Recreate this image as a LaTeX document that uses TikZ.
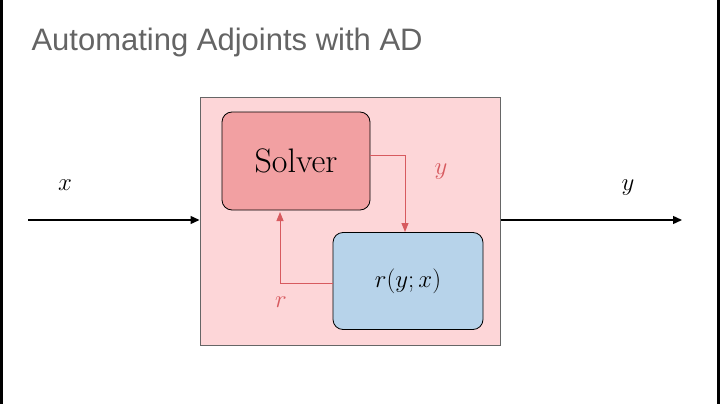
\documentclass[tikz,border=0pt]{standalone}
\usepackage{fontspec}
\setsansfont{Liberation Sans}
\usetikzlibrary{arrows.meta}
\definecolor{pinkbg}{RGB}{253,214,216}
\definecolor{solv}{RGB}{242,160,162}
\definecolor{rbox}{RGB}{183,211,234}
\definecolor{redar}{RGB}{215,90,95}
\definecolor{titleg}{RGB}{100,100,100}
\tikzset{
 inner/.style={draw=black,line width=0.8pt,rounded corners=10pt,inner sep=0pt},
 blk/.style={-{Triangle[length=9pt,width=8pt]},line width=1.4pt},
 red/.style={-{Triangle[length=9pt,width=7pt]},draw=redar,line width=1pt},
 lbl/.style={font=\fontsize{34}{34}\selectfont}
}
\begin{document}
\begin{tikzpicture}[x=1pt,y=-1pt]
\useasboundingbox (0,0) rectangle (720,404);
\fill[white] (0,0) rectangle (720,404);
\fill[black] (0,0) rectangle (3,404);
\fill[black] (717,0) rectangle (720,404);
\node[anchor=west,text=titleg,font=\sffamily\fontsize{31}{31}\selectfont] (title) at (28,42) {Automating Adjoints with AD};
\node[draw=gray!80!black,fill=pinkbg,line width=1pt,minimum width=300pt,minimum height=248pt,inner sep=0pt] (big) at (350,221) {};
\node[inner,fill=solv,minimum width=148pt,minimum height=98pt,lbl] (solver) at (296,161) {Solver};
\node[inner,fill=rbox,minimum width=150pt,minimum height=97pt,lbl] (res) at (408,281) {$r(y;x)$};
\coordinate (xin) at (28,220);
\coordinate (yout) at (682,220);
\draw[blk] (xin) -- (big.west |- xin);
\draw[blk] (big.east |- yout) -- (yout);
\node[lbl] (xl) at (65,185) {$x$};
\node[lbl] (yl) at (628,188) {$y$};
\draw[red] (solver.east |- 0,155) -- (405,155) -- (405,232);
\draw[red] (res.west |- 0,283) -- (280,283) -- (280,212);
\node[lbl,text=redar] (yr) at (441,172) {$y$};
\node[lbl,text=redar] (rr) at (281,302) {$r$};
\end{tikzpicture}
\end{document}
